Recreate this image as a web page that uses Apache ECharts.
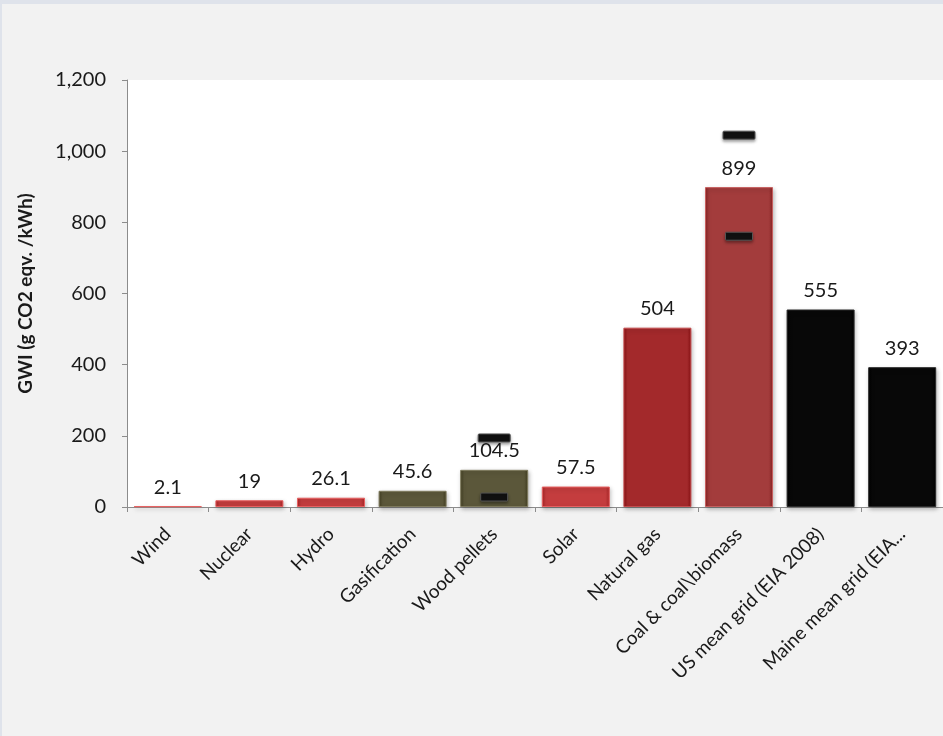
<!DOCTYPE html>
<html>
<head>
<meta charset="utf-8">
<script src="https://cdn.jsdelivr.net/npm/echarts@6/dist/echarts.min.js"></script>
<style>
  html, body { margin: 0; padding: 0; background: #f2f2f2; }
  #main { width: 943px; height: 736px; }
</style>
</head>
<body>
<div id="main"></div>
<script>
// categories and values
var categories = ['Wind', 'Nuclear', 'Hydro', 'Gasification', 'Wood pellets', 'Solar',
  'Natural gas', 'Coal & coal\\biomass', 'US mean grid (EIA 2008)', 'Maine mean grid (EIA...'];
var gwiValues = [2.1, 19, 26.1, 45.6, 104.5, 57.5, 504, 899, 555, 393];
// error bars: [category index, low, high]
var errorRanges = [[4, 28, 194], [7, 761, 1045]];
var yTicks = [0, 200, 400, 600, 800, 1000, 1200];

// bar colours (one per category)
var barColors = ['#c43d3e', '#c43d3e', '#c43d3e', '#5b573a', '#5b573a', '#c43d3e',
  '#a3292b', '#a33c3c', '#080808', '#080808'];

function shade(hex, amt) {
  var n = parseInt(hex.slice(1), 16);
  var r = Math.min(255, Math.max(0, (n >> 16) + amt));
  var g = Math.min(255, Math.max(0, ((n >> 8) & 255) + amt));
  var b = Math.min(255, Math.max(0, (n & 255) + amt));
  return 'rgb(' + r + ',' + g + ',' + b + ')';
}

var barData = gwiValues.map(function (v, i) {
  var c = barColors[i];
  return {
    value: v,
    itemStyle: {
      color: new echarts.graphic.LinearGradient(0, 0, 1, 0, [
        { offset: 0, color: shade(c, -25) },
        { offset: 0.06, color: c },
        { offset: 0.94, color: c },
        { offset: 1, color: shade(c, -25) }
      ]),
      borderColor: shade(c, 35),
      borderWidth: 1
    }
  };
});

var chart = echarts.init(document.getElementById('main'));

chart.setOption({
  backgroundColor: '#f2f2f2',
  animation: false,
  textStyle: { fontFamily: 'Lato' },
  graphic: [
    { type: 'rect', shape: { x: 0, y: 0, width: 943, height: 4 }, style: { fill: '#dfe3eb' }, silent: true },
    { type: 'rect', shape: { x: 0, y: 0, width: 2, height: 736 }, style: { fill: '#dfe3eb' }, silent: true }
  ],
  grid: {
    left: 127,
    top: 80,
    width: 820,
    bottom: 229,
    show: true,
    backgroundColor: '#ffffff',
    borderWidth: 0
  },
  xAxis: {
    type: 'category',
    data: categories,
    axisLine: { lineStyle: { color: '#8c8c8c', width: 1 } },
    axisTick: { show: true, length: 5, lineStyle: { color: '#8c8c8c' } },
    axisLabel: {
      rotate: 45,
      interval: 0,
      margin: 24,
      fontSize: 19,
      color: '#1a1a1a'
    }
  },
  yAxis: {
    type: 'value',
    min: 0,
    max: 1200,
    interval: 200,
    name: 'GWI (g CO2 eqv. /kWh)',
    nameLocation: 'middle',
    nameGap: 92,
    nameTextStyle: { fontSize: 19, fontWeight: 'bold', color: '#1a1a1a' },
    axisLine: { show: true, lineStyle: { color: '#8c8c8c', width: 1 } },
    axisTick: { show: true, length: 5, lineStyle: { color: '#8c8c8c' } },
    splitLine: { show: false },
    axisLabel: {
      margin: 21,
      fontSize: 20,
      color: '#1a1a1a',
      customValues: yTicks,
      formatter: function (v) { return v.toLocaleString('en-US'); }
    }
  },
  series: [
    {
      type: 'bar',
      data: barData,
      barWidth: 68,
      label: {
        show: true,
        position: 'top',
        distance: 9,
        fontSize: 20,
        color: '#1a1a1a'
      },
      itemStyle: {
        shadowBlur: 4,
        shadowOffsetX: 1,
        shadowOffsetY: 2,
        shadowColor: 'rgba(0,0,0,0.25)'
      },
      z: 2
    },
    {
      type: 'custom',
      data: errorRanges,
      z: 5,
      renderItem: function (params, api) {
        var idx = api.value(0);
        var lo = api.coord([idx, api.value(1)]);
        var hi = api.coord([idx, api.value(2)]);
        function marker(p, w) {
          return {
            type: 'rect',
            shape: { x: p[0] - w / 2, y: p[1] - 4, width: w, height: 8, r: 1 },
            style: {
              fill: '#111111',
              stroke: '#555555',
              lineWidth: 1,
              shadowBlur: 3,
              shadowOffsetY: 2,
              shadowColor: 'rgba(0,0,0,0.35)'
            }
          };
        }
        return { type: 'group', children: [marker(lo, 27), marker(hi, 32)] };
      }
    }
  ]
});
</script>
</body>
</html>
